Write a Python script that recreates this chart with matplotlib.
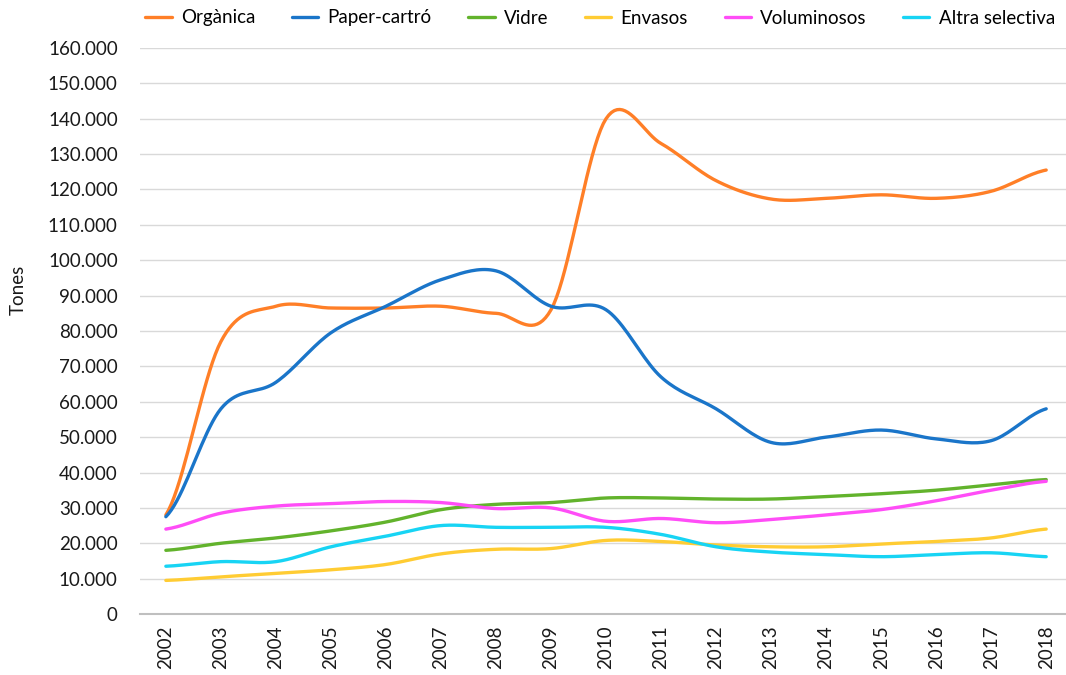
import numpy as np
import matplotlib
matplotlib.use("Agg")
import matplotlib.pyplot as plt
from matplotlib.ticker import FuncFormatter

years = ["2002", "2003", "2004", "2005", "2006", "2007", "2008", "2009", "2010",
         "2011", "2012", "2013", "2014", "2015", "2016", "2017", "2018"]

organica = [28000, 77000, 87000, 86500, 86500, 87000, 85000, 86000, 140000,
            133000, 122500, 117300, 117500, 118500, 117500, 119500, 125500]
paper = [27500, 58000, 65500, 79500, 87000, 94500, 97000, 87000, 86000,
         67000, 58000, 48500, 50000, 52000, 49500, 49000, 58000]
vidre = [18000, 20000, 21500, 23500, 26000, 29500, 31000, 31500, 32800,
         32800, 32500, 32500, 33200, 34000, 35000, 36500, 38000]
envasos = [9500, 10500, 11500, 12500, 14000, 17000, 18300, 18500, 20800,
           20500, 19500, 19000, 19000, 19800, 20500, 21500, 24000]
voluminosos = [24000, 28500, 30500, 31200, 31800, 31500, 29800, 30000, 26200,
               27000, 25800, 26700, 28000, 29500, 32000, 35000, 37500]
altra = [13500, 14800, 14800, 19000, 22000, 25000, 24500, 24500, 24500,
         22500, 19000, 17500, 16800, 16200, 16800, 17300, 16200]

series = [
    ("Orgànica", organica, "#ff7f27"),
    ("Paper-cartró", paper, "#1a75c9"),
    ("Vidre", vidre, "#62b32c"),
    ("Envasos", envasos, "#ffcc33"),
    ("Voluminosos", voluminosos, "#ff4df7"),
    ("Altra selectiva", altra, "#17d4f4"),
]


def smooth(y, steps=20):
    # catmull-rom curve through the points, like a spreadsheet "smoothed line"
    y = np.asarray(y, dtype=float)
    p = np.concatenate([[y[0]], y, [y[-1]]])
    xs, ys = [], []
    for i in range(len(y) - 1):
        p0, p1, p2, p3 = p[i], p[i + 1], p[i + 2], p[i + 3]
        t = np.linspace(0, 1, steps, endpoint=False)
        v = 0.5 * (2 * p1 + (-p0 + p2) * t + (2 * p0 - 5 * p1 + 4 * p2 - p3) * t ** 2
                   + (-p0 + 3 * p1 - 3 * p2 + p3) * t ** 3)
        xs.append(i + t)
        ys.append(v)
    xs.append([len(y) - 1])
    ys.append([y[-1]])
    return np.concatenate(xs), np.concatenate(ys)


plt.rcParams["font.family"] = ["Lato", "DejaVu Sans"]

fig = plt.figure(figsize=(10.66, 6.75), dpi=100)
ax = fig.add_axes([140 / 1066, 1 - 614 / 675, 926 / 1066, 566 / 675])

for name, vals, col in series:
    sx, sy = smooth(vals)
    ax.plot(sx, sy, color=col, lw=2.4, label=name, solid_capstyle="round")

ax.set_ylim(0, 160000)
ax.set_yticks(np.arange(0, 160001, 10000))
ax.yaxis.set_major_formatter(FuncFormatter(lambda v, p: f"{int(v):,}".replace(",", ".")))
ax.set_xlim(-0.47, 16.36)
ax.set_xticks(range(len(years)))
ax.set_xticklabels(years, rotation=90)
ax.tick_params(axis="both", length=0, labelsize=13.5, colors="#1a1a1a")
ax.tick_params(axis="x", pad=8)
ax.tick_params(axis="y", pad=16)

ax.grid(axis="y", color="#d9d9d9", lw=1)
ax.set_axisbelow(True)
for s in ["top", "right", "left"]:
    ax.spines[s].set_visible(False)
ax.spines["bottom"].set_color("#bfbfbf")
ax.spines["bottom"].set_linewidth(1.5)

fig.text(18 / 1066, 1 - 290 / 675, "Tones", rotation=90, ha="center", va="center",
         fontsize=13.5, color="#1a1a1a")

ax.legend(loc="center", bbox_to_anchor=(0.497, 1 + 30 / 566), ncol=6, frameon=False,
          fontsize=13.5, handlelength=1.4, columnspacing=1.95, handletextpad=0.5,
          borderpad=0)

fig.savefig("out.png", dpi=100)
